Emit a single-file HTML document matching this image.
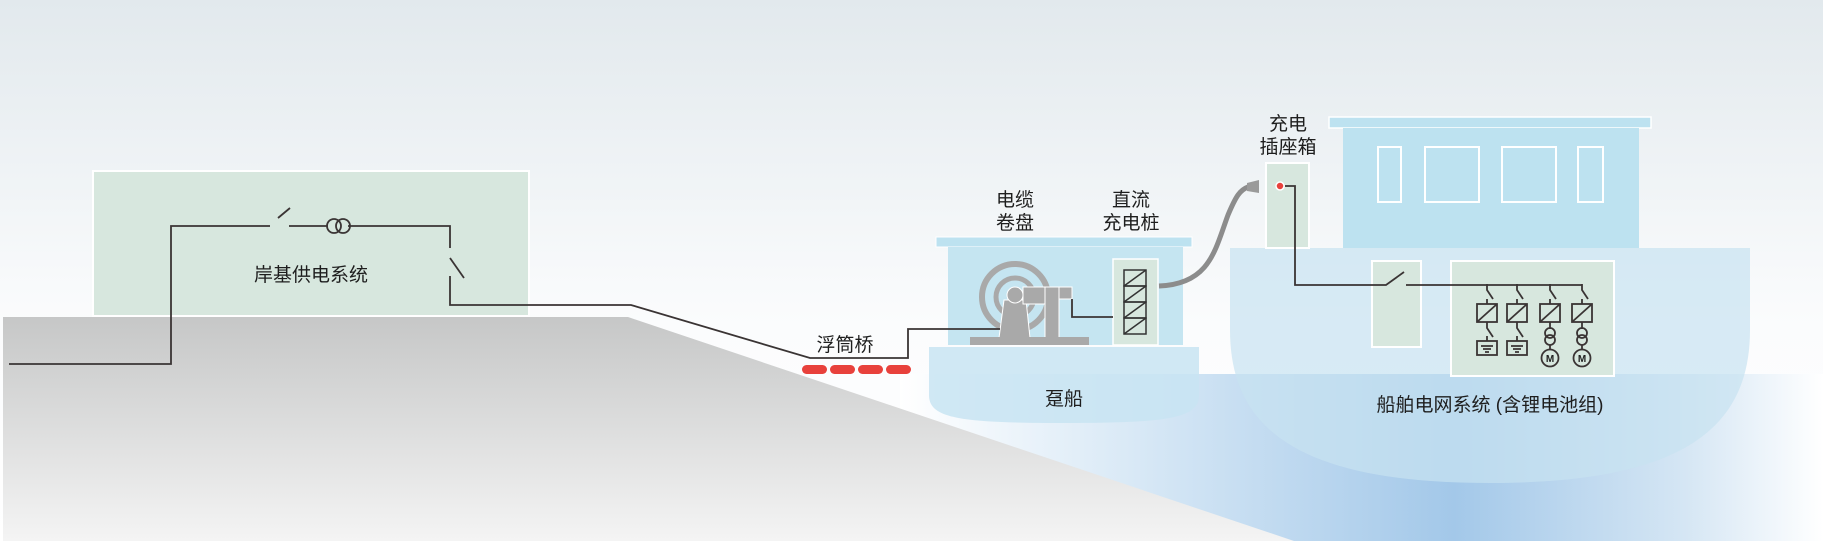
<!DOCTYPE html>
<html><head><meta charset="utf-8"><style>
html,body{margin:0;padding:0;background:#fff}
svg{display:block}
text{font-family:"Liberation Sans","Noto Sans CJK SC",sans-serif;font-size:19px;fill:#1e1e1e}
</style></head><body>
<svg width="1823" height="541" viewBox="0 0 1823 541" xmlns="http://www.w3.org/2000/svg">
<defs>
<linearGradient id="sky" x1="0" y1="0" x2="0" y2="1">
<stop offset="0" stop-color="#e2e9ed"/><stop offset="0.6" stop-color="#fbfcfd"/><stop offset="1" stop-color="#ffffff"/></linearGradient>
<linearGradient id="ground" x1="0" y1="0" x2="0" y2="1">
<stop offset="0" stop-color="#c6c7c7"/><stop offset="1" stop-color="#f4f4f4"/></linearGradient>
<linearGradient id="water" x1="0" y1="0" x2="1" y2="0">
<stop offset="0" stop-color="#ffffff"/><stop offset="0.25" stop-color="#d9e9f6"/><stop offset="0.6" stop-color="#a3c8e9"/><stop offset="0.85" stop-color="#d5e6f4"/><stop offset="1" stop-color="#ffffff"/></linearGradient>
</defs>
<rect width="1823" height="541" fill="url(#sky)"/>
<rect x="900" y="374" width="923" height="167" fill="url(#water)"/>
<path d="M1230 248 H1750 V330 C1750 430 1680 483 1490 483 C1300 483 1230 430 1230 330 Z" fill="#c7e3f1" opacity="0.7"/>
<rect x="1329" y="117" width="322" height="11" fill="#bde2f0" stroke="#fff" stroke-width="1.5"/>
<rect x="1343" y="128" width="296" height="120" fill="#bde2f0"/>
<g fill="none" stroke="#fff" stroke-width="2">
<rect x="1378" y="147" width="23" height="55"/><rect x="1425" y="147" width="54" height="55"/>
<rect x="1502" y="147" width="54" height="55"/><rect x="1578" y="147" width="25" height="55"/></g>
<polygon points="3,317 628,317 1294,541 3,541" fill="url(#ground)"/>
<rect x="93" y="171" width="436" height="145" fill="#d7e7de" stroke="#fff" stroke-width="2"/>
<text x="311" y="281" text-anchor="middle">岸基供电系统</text>
<rect x="936" y="237" width="256" height="10" fill="#bde2f0" stroke="#fff" stroke-width="1"/>
<rect x="948" y="247" width="235" height="98" fill="#c5e5f1"/>
<path d="M929 347 H1199 V395 C1199 418 1170 423 1064 423 C958 423 929 418 929 395 Z" fill="#c8e4f2" opacity="0.85"/>
<text x="1064" y="405" text-anchor="middle">趸船</text>
<text x="1015" y="206" text-anchor="middle">电缆</text>
<text x="1015" y="229" text-anchor="middle">卷盘</text>
<text x="1131" y="206" text-anchor="middle">直流</text>
<text x="1131" y="229" text-anchor="middle">充电桩</text>
<g fill="none" stroke="#a9a9a9">
<circle cx="1015" cy="297" r="33" stroke-width="6"/>
<circle cx="1015" cy="297" r="19" stroke-width="5"/></g>
<polygon points="1004,300 1026,300 1030,338 999,338" fill="#a9a9a9" stroke="#fff"/>
<circle cx="1015" cy="295" r="8" fill="#a9a9a9" stroke="#fff"/>
<rect x="1023" y="287" width="26" height="17" fill="#a9a9a9" stroke="#fff"/>
<rect x="1045" y="287" width="14" height="51" fill="#a9a9a9" stroke="#fff"/>
<rect x="1059" y="287" width="13" height="12" fill="#a9a9a9" stroke="#fff"/>
<rect x="970" y="337" width="119" height="8" fill="#a9a9a9"/>
<rect x="1113" y="259" width="45" height="86" fill="#d7e7de" stroke="#fff" stroke-width="1.5"/>
<g fill="none" stroke="#333" stroke-width="1.5">
<rect x="1124" y="270" width="22" height="16"/><path d="M1124 286 L1146 270"/>
<rect x="1124" y="286" width="22" height="16"/><path d="M1124 302 L1146 286"/>
<rect x="1124" y="302" width="22" height="16"/><path d="M1124 318 L1146 302"/>
<rect x="1124" y="318" width="22" height="16"/><path d="M1124 334 L1146 318"/>
</g>
<path d="M1159 286 C1210 284 1215 250 1228 215 C1236 196 1240 190 1248 187" fill="none" stroke="#8c8c8c" stroke-width="5"/>
<polygon points="1247,183 1259,180 1259,193 1247,191" fill="#9a9a9a"/>
<rect x="1266" y="163" width="43" height="85" fill="#d7e7de" stroke="#fff" stroke-width="2"/>
<text x="1288" y="130" text-anchor="middle">充电</text>
<text x="1288" y="153" text-anchor="middle">插座箱</text>
<rect x="1372" y="261" width="49" height="86" fill="#d7e7de" stroke="#fff" stroke-width="2"/>
<rect x="1451" y="261" width="163" height="115" fill="#d7e7de" stroke="#fff" stroke-width="2"/>
<text x="1490" y="411" text-anchor="middle">船舶电网系统 (含锂电池组)</text>
<g fill="none" stroke="#3a3434" stroke-width="1.8">
<path d="M9 364 H171 V226 H270 M278 218 L290 208 M289 226 H328 M348 226 H450 V248 M450 258 L464 278 M450 276 V305 H631 L810 358 H908 V329 H1000"/>
<circle cx="334" cy="226" r="7"/><circle cx="343" cy="226" r="7"/>
<path d="M1072 299 V317 H1113"/>
<path d="M1285 186 H1295 V285 H1386 L1404 272 M1406 285 H1582"/>
<path d="M1487 284 V290 L1493 299 M1487 299 V304 M1487 322 V328 L1493 337 M1487 336 V341"/>
<path d="M1517 284 V290 L1523 299 M1517 299 V304 M1517 322 V328 L1523 337 M1517 336 V341"/>
<path d="M1550 284 V290 L1556 299 M1550 299 V304 M1550 322 V329"/>
<path d="M1582 284 V290 L1588 299 M1582 299 V304 M1582 322 V329"/>
<rect x="1477" y="304" width="20" height="18"/><path d="M1477 322 L1497 304"/>
<rect x="1507" y="304" width="20" height="18"/><path d="M1507 322 L1527 304"/>
<rect x="1540" y="304" width="20" height="18"/><path d="M1540 322 L1560 304"/>
<rect x="1572" y="304" width="20" height="18"/><path d="M1572 322 L1592 304"/>
<rect x="1477" y="341" width="20" height="14"/><path d="M1481 346 H1493 M1483 349 H1491 M1485 352 H1489"/>
<rect x="1507" y="341" width="20" height="14"/><path d="M1511 346 H1523 M1513 349 H1521 M1515 352 H1519"/>
<circle cx="1550" cy="333" r="5"/><circle cx="1550" cy="340" r="5"/><path d="M1550 345 V350"/>
<circle cx="1582" cy="333" r="5"/><circle cx="1582" cy="340" r="5"/><path d="M1582 345 V350"/>
<circle cx="1550" cy="358" r="8.5"/><circle cx="1582" cy="358" r="8.5"/>
</g>
<text x="1550" y="362" text-anchor="middle" style="font-size:10px;font-weight:bold">M</text>
<text x="1582" y="362" text-anchor="middle" style="font-size:10px;font-weight:bold">M</text>
<circle cx="1280" cy="186" r="4" fill="#e8413c" stroke="#fff" stroke-width="1.5"/>
<text x="845" y="351" text-anchor="middle">浮筒桥</text>
<g fill="#e8413c">
<rect x="802" y="365" width="25" height="9" rx="4.5"/><rect x="830" y="365" width="25" height="9" rx="4.5"/>
<rect x="858" y="365" width="25" height="9" rx="4.5"/><rect x="886" y="365" width="25" height="9" rx="4.5"/></g>
</svg>
</body></html>
